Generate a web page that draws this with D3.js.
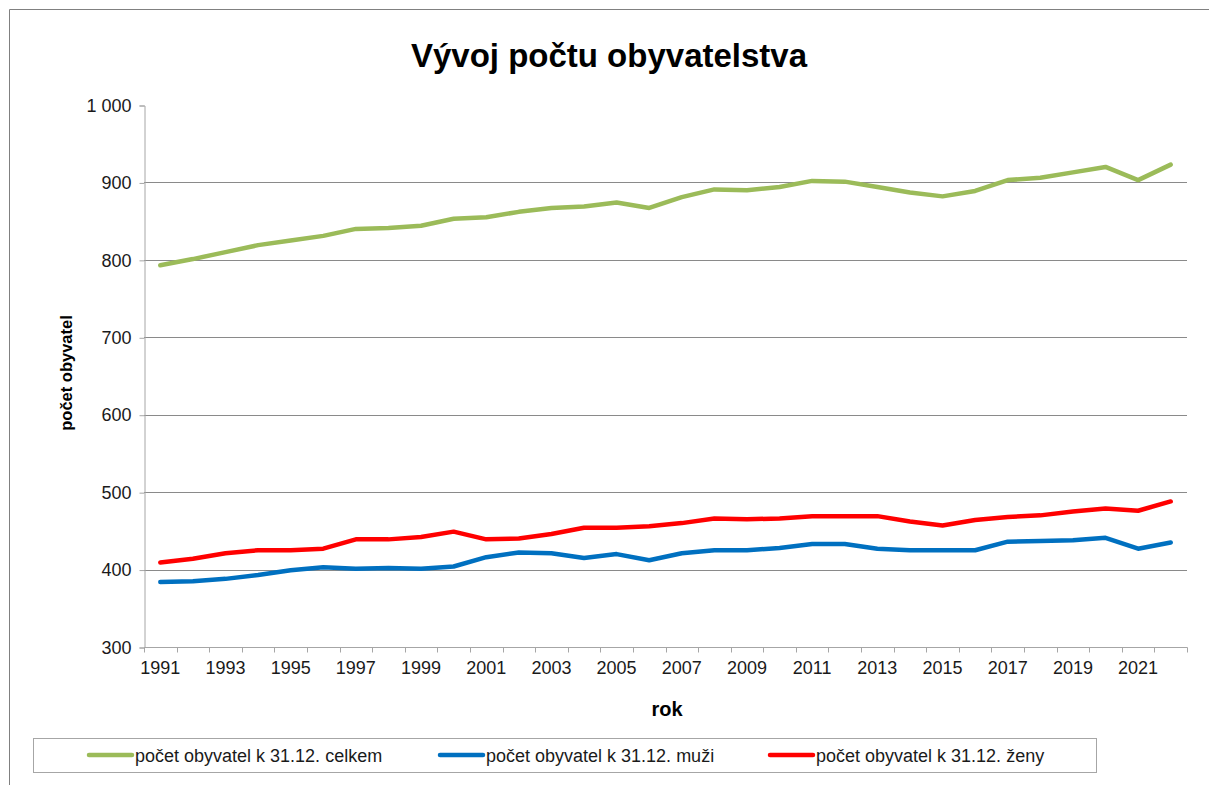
<!DOCTYPE html>
<html>
<head>
<meta charset="utf-8">
<script src="https://cdn.jsdelivr.net/npm/d3@7"></script>
<style>
  html, body { margin: 0; padding: 0; background: #fff; }
  svg { display: block; font-family: "Liberation Sans", Arial, sans-serif; }
</style>
</head>
<body>
<svg id="chart" width="1209" height="785"></svg>
<script>
const years = d3.range(1991, 2023).map(String);
const celkem = [793, 801, 810, 819, 825, 831, 840, 841, 844, 853, 855, 862, 867, 869, 874, 867,
                881, 891, 890, 894, 902, 901, 894, 887, 882, 889, 903, 906, 913, 920, 903, 923];
const muzi   = [384, 385, 388, 393, 399, 403, 401, 402, 401, 404, 416, 422, 421, 415, 420, 412,
                421, 425, 425, 428, 433, 433, 427, 425, 425, 425, 436, 437, 438, 441, 427, 435];
const zeny   = [409, 414, 421, 425, 425, 427, 439, 439, 442, 449, 439, 440, 446, 454, 454, 456,
                460, 466, 465, 466, 469, 469, 469, 462, 457, 464, 468, 470, 475, 479, 476, 488];
const yTicks = [300, 400, 500, 600, 700, 800, 900, 1000];
const seriesNames = ["počet obyvatel k 31.12. celkem", "počet obyvatel k 31.12. muži", "počet obyvatel k 31.12. ženy"];
const seriesColors = ["#9BBB59", "#0070C0", "#FF0000"];
const title = "Vývoj počtu obyvatelstva";
const yTitle = "počet obyvatel";
const xTitle = "rok";

const svg = d3.select("#chart");
const L = 144, R = 1187, T = 105, B = 647;

// outer frame (top and left visible)
svg.append("line").attr("x1", 9.5).attr("x2", 1209).attr("y1", 9.5).attr("y2", 9.5)
  .attr("stroke", "#808080").attr("stroke-width", 1);
svg.append("line").attr("x1", 9.5).attr("x2", 9.5).attr("y1", 9.5).attr("y2", 785)
  .attr("stroke", "#808080").attr("stroke-width", 1);

const x = d3.scaleBand().domain(years).range([L, R]).padding(0);
const y = d3.scaleLinear().domain([300, 1000]).range([B, T]);

// gridlines
svg.append("g").selectAll("line").data(yTicks.filter(v => v > 300 && v < 1000)).join("line")
  .attr("x1", L).attr("x2", R)
  .attr("y1", d => Math.round(y(d)) + 0.5).attr("y2", d => Math.round(y(d)) + 0.5)
  .attr("stroke", "#8a8a8a").attr("stroke-width", 1);

// y axis
const yAxis = d3.axisLeft(y).tickValues(yTicks).tickSize(5).tickPadding(8)
  .tickFormat(d => d3.format(",")(d).replace(/,/g, " "));
const gy = svg.append("g").attr("transform", `translate(${L + 0.5},0.5)`).call(yAxis);
gy.select(".domain").attr("stroke", "#a6a6a6");
gy.selectAll(".tick line").attr("stroke", "#a6a6a6");
gy.selectAll(".tick text").attr("font-size", 18).attr("fill", "#1a1a1a")
  .attr("font-family", "Liberation Sans, Arial, sans-serif");

// x axis: ticks at band boundaries, labels at centers for odd years
const gx = svg.append("g").attr("transform", `translate(0,${B + 0.5})`);
gx.append("line").attr("x1", L).attr("x2", R + 0.5).attr("y1", 0).attr("y2", 0).attr("stroke", "#a6a6a6");
const bounds = years.map(d => x(d)).concat([x(years[years.length - 1]) + x.bandwidth()]);
gx.selectAll("line.tk").data(bounds).join("line").attr("class", "tk")
  .attr("x1", d => Math.round(d) + 0.5).attr("x2", d => Math.round(d) + 0.5)
  .attr("y1", 0).attr("y2", 5).attr("stroke", "#a6a6a6");
gx.selectAll("text").data(years.filter((d, i) => i % 2 === 0)).join("text")
  .attr("x", d => x(d) + x.bandwidth() / 2).attr("y", 26)
  .attr("text-anchor", "middle").attr("font-size", 18).attr("fill", "#1a1a1a").text(d => d);

// lines
const lineGen = d3.line().x((d, i) => x(years[i]) + x.bandwidth() / 2).y(d => y(d));
[celkem, muzi, zeny].forEach((s, k) => {
  svg.append("path").datum(s).attr("d", lineGen)
    .attr("fill", "none").attr("stroke", seriesColors[k]).attr("stroke-width", 4.5)
    .attr("stroke-linejoin", "round").attr("stroke-linecap", "round");
});

// title
svg.append("text").attr("x", 609).attr("y", 67).attr("text-anchor", "middle")
  .attr("font-size", 33).attr("font-weight", "bold").attr("fill", "#000").text(title);

// axis titles
svg.append("text").attr("transform", `translate(72,373) rotate(-90)`).attr("text-anchor", "middle")
  .attr("font-size", 16.5).attr("font-weight", "bold").attr("fill", "#000").text(yTitle);
svg.append("text").attr("x", 667).attr("y", 716).attr("text-anchor", "middle")
  .attr("font-size", 20).attr("font-weight", "bold").attr("fill", "#000").text(xTitle);

// legend
svg.append("rect").attr("x", 33.5).attr("y", 738.5).attr("width", 1063).attr("height", 34)
  .attr("fill", "#fff").attr("stroke", "#a6a6a6").attr("stroke-width", 1);
const legX = [89, 440, 770];
const lg = svg.append("g").selectAll("g").data(seriesNames).join("g")
  .attr("transform", (d, i) => `translate(${legX[i]},755)`);
lg.append("line").attr("x1", 0).attr("x2", 43).attr("y1", 0).attr("y2", 0)
  .attr("stroke", (d, i) => seriesColors[i]).attr("stroke-width", 4.5).attr("stroke-linecap", "round");
lg.append("text").attr("x", 46).attr("y", 6.5).attr("font-size", 18).attr("fill", "#1a1a1a").text(d => d);
</script>
</body>
</html>
